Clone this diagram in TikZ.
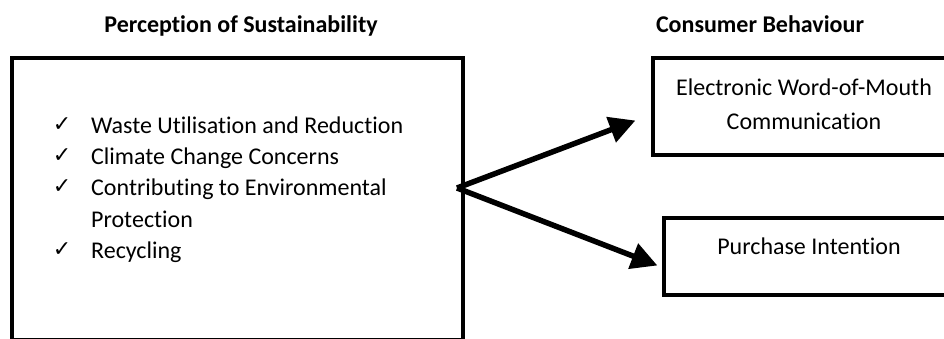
\documentclass[tikz,border=0pt]{standalone}
\usepackage{fontspec}
\setmainfont[Ligatures=NoCommon]{Carlito}
\newfontfamily\symfont{DejaVu Sans}
\usetikzlibrary{arrows.meta,calc}
\begin{document}
\begin{tikzpicture}[x=1pt,y=-1pt,
  heading/.style={font=\fontsize{24}{28}\selectfont\bfseries, anchor=base, inner sep=0pt},
  frame/.style={draw=black, line width=3.2pt, inner sep=0pt},
  body/.style={font=\fontsize{24}{34}\selectfont, inner sep=0pt},
  item/.style={body, anchor=base west},
  tick/.style={anchor=base, inner sep=0pt, font=\symfont\fontsize{22}{24}\selectfont},
  link/.style={line width=5.5pt, -{Triangle[length=26pt,width=26pt]}}
]
\useasboundingbox (0,0) rectangle (944,338);
\clip (0,0) rectangle (944,338);
\fill[white] (0,0) rectangle (944,338);

% headings
\node[heading] (h1) at (241,32) {Perception of Sustainability};
\node[heading] (h2) at (760,32) {Consumer Behaviour};

% left box with the checklist
\node[frame, minimum width=451pt, minimum height=282pt] (lbox) at (237.5,199) {};
\node[item] (i1) at (91,133) {Waste Utilisation and Reduction};
\node[item] (i2) at (91,164) {Climate Change Concerns};
\node[item] (i3) at (91,195) {Contributing to Environmental};
\node[item] (i4) at (91,227) {Protection};
\node[item] (i5) at (91,258) {Recycling};
\node[tick] (c1) at (62,131) {✓};
\node[tick] (c2) at (62,162) {✓};
\node[tick] (c3) at (62,193) {✓};
\node[tick] (c5) at (62,256) {✓};

% right boxes (they run past the right margin)
\node[frame, minimum width=310pt, minimum height=97pt] (ewom) at (808,106.5) {};
\node[body, anchor=base] (e1) at (804,95) {Electronic Word-of-Mouth};
\node[body, anchor=base] (e2) at (804,129) {Communication};
\node[frame, minimum width=300pt, minimum height=77pt] (pi) at (814,256.5) {};
\node[body, anchor=base] (pit) at (809,254) {Purchase Intention};

% connectors
\coordinate (src) at (457,188);
\draw[link] (src) -- ($(ewom.west)+(-16,14)$);
\draw[link] (src) -- ($(pi.west)+(-5,9)$);
\end{tikzpicture}
\end{document}
